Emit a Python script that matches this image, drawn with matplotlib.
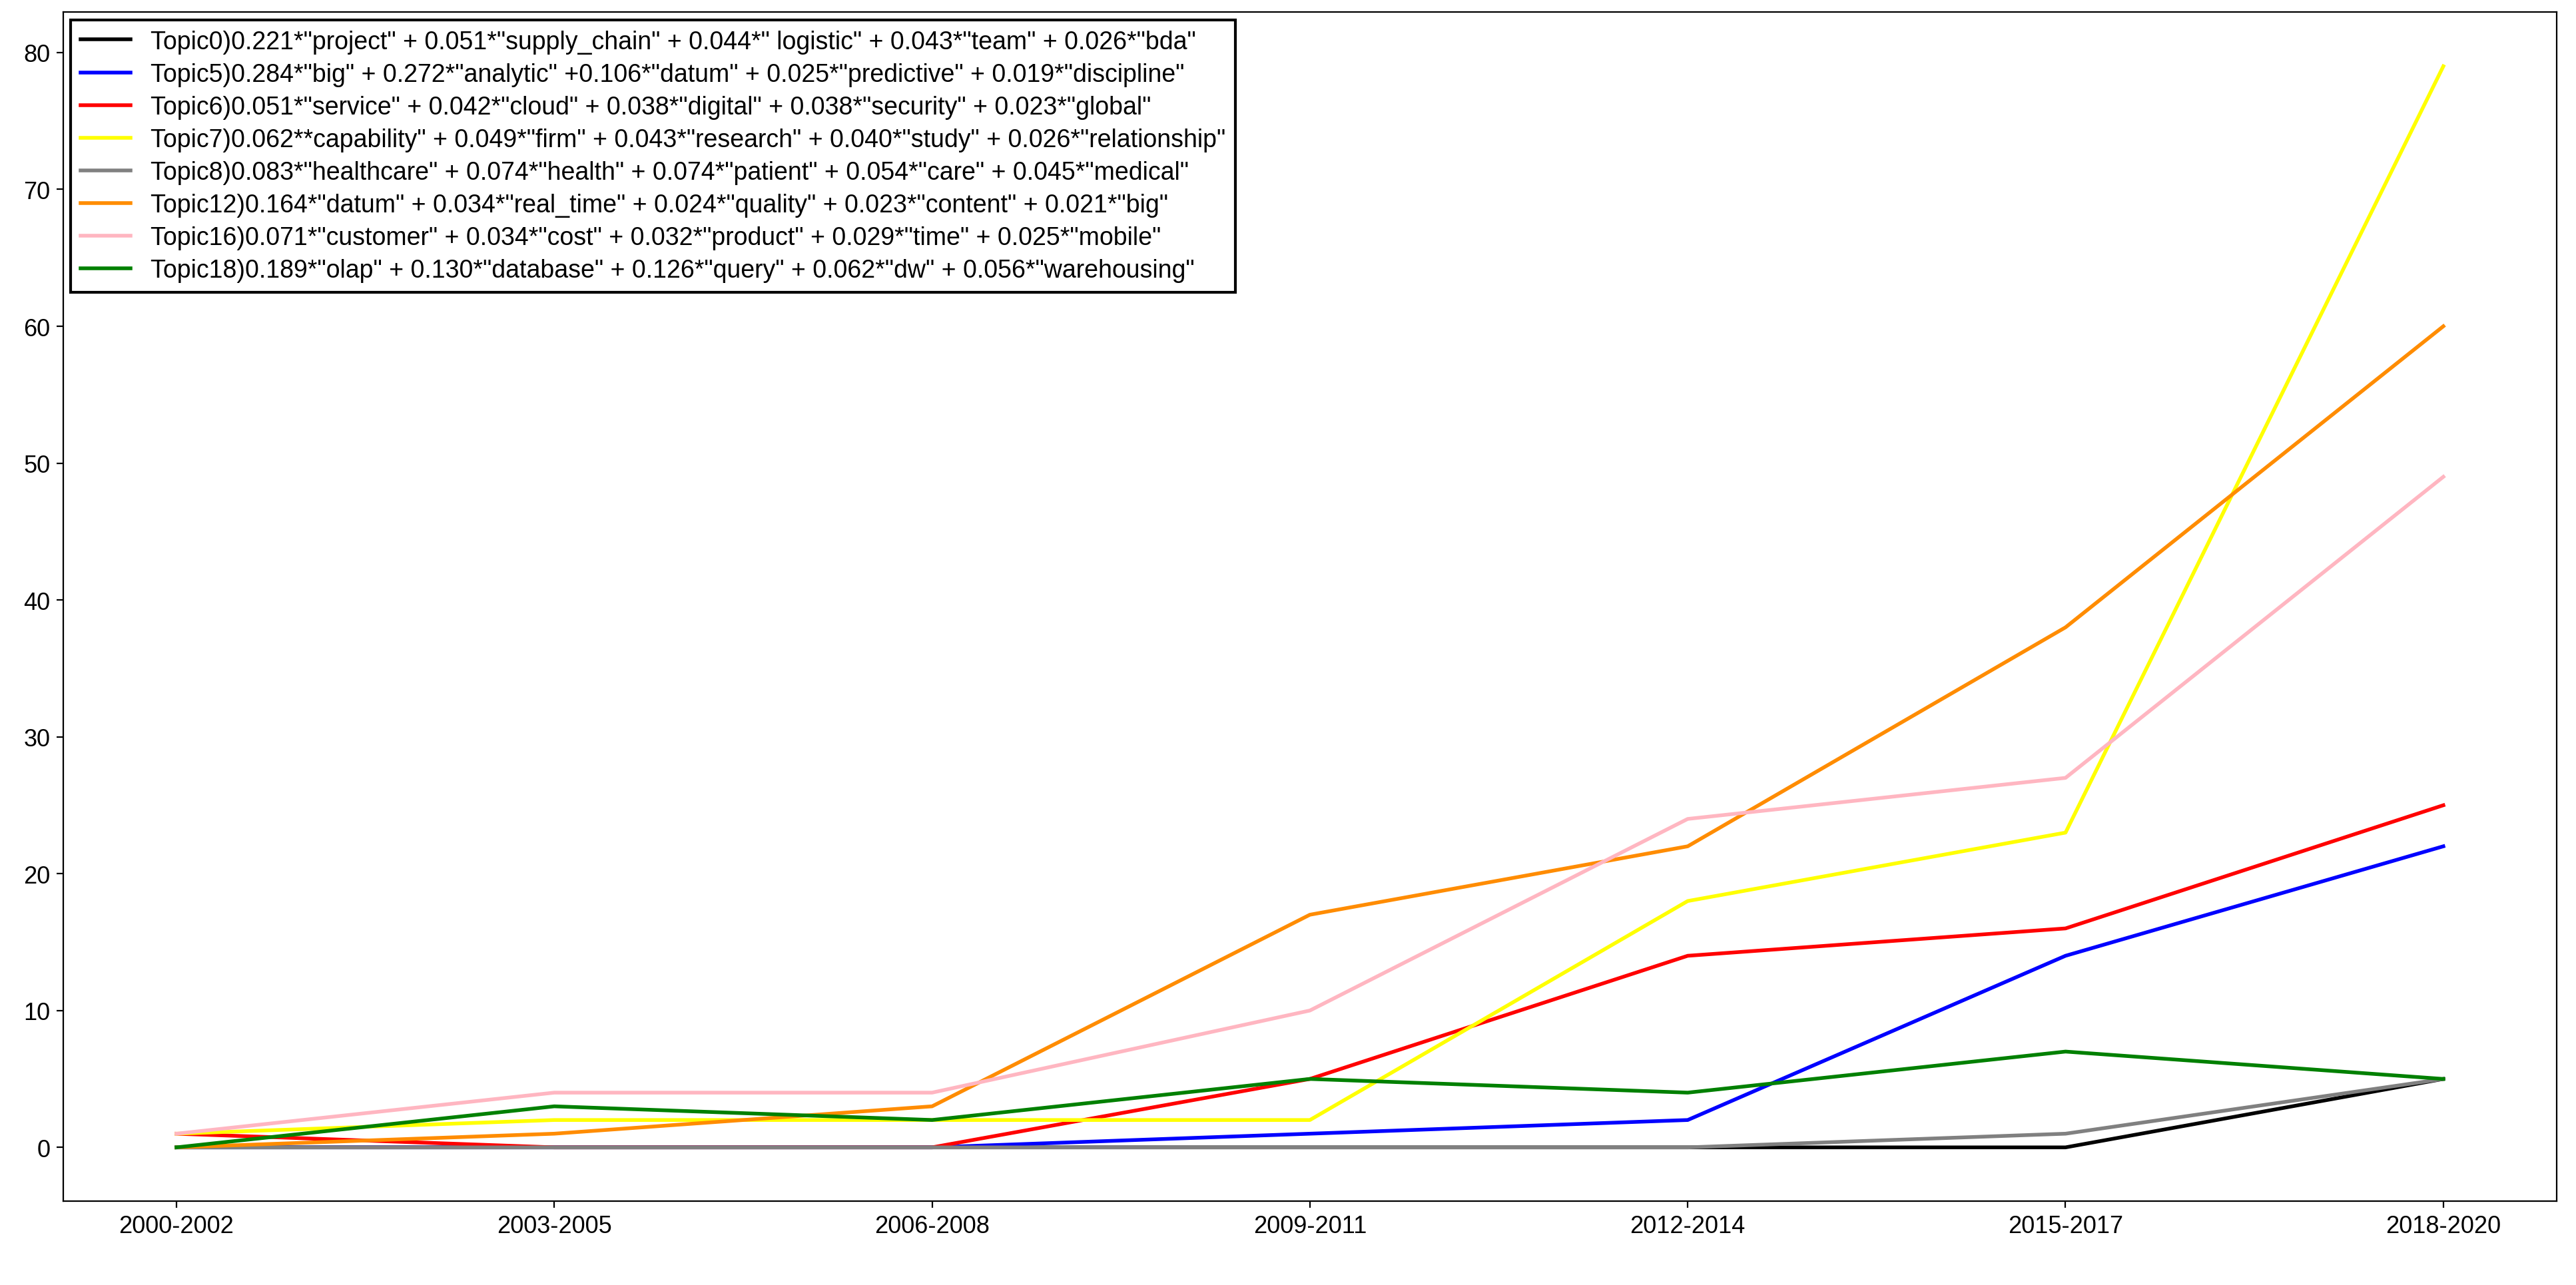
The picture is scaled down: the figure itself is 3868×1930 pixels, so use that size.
import matplotlib
matplotlib.use("Agg")
import matplotlib.pyplot as plt

plt.rcParams['font.family'] = ['Liberation Sans', 'DejaVu Sans']

periods = ["2000-2002", "2003-2005", "2006-2008", "2009-2011", "2012-2014", "2015-2017", "2018-2020"]
topic0 = [0, 0, 0, 0, 0, 0, 5]
topic5 = [0, 0, 0, 1, 2, 14, 22]
topic6 = [1, 0, 0, 5, 14, 16, 25]
topic7 = [1, 2, 2, 2, 18, 23, 79]
topic8 = [0, 0, 0, 0, 0, 1, 5]
topic12 = [0, 1, 3, 17, 22, 38, 60]
topic16 = [1, 4, 4, 10, 24, 27, 49]
topic18 = [0, 3, 2, 5, 4, 7, 5]

labels = [
    'Topic0)0.221*"project" + 0.051*"supply_chain" + 0.044*" logistic" + 0.043*"team" + 0.026*"bda"',
    'Topic5)0.284*"big" + 0.272*"analytic" +0.106*"datum" + 0.025*"predictive" + 0.019*"discipline"',
    'Topic6)0.051*"service" + 0.042*"cloud" + 0.038*"digital" + 0.038*"security" + 0.023*"global"',
    'Topic7)0.062**capability" + 0.049*"firm" + 0.043*"research" + 0.040*"study" + 0.026*"relationship"',
    'Topic8)0.083*"healthcare" + 0.074*"health" + 0.074*"patient" + 0.054*"care" + 0.045*"medical"',
    'Topic12)0.164*"datum" + 0.034*"real_time" + 0.024*"quality" + 0.023*"content" + 0.021*"big"',
    'Topic16)0.071*"customer" + 0.034*"cost" + 0.032*"product" + 0.029*"time" + 0.025*"mobile"',
    'Topic18)0.189*"olap" + 0.130*"database" + 0.126*"query" + 0.062*"dw" + 0.056*"warehousing"',
]
series = [topic0, topic5, topic6, topic7, topic8, topic12, topic16, topic18]
colors = ["black", "blue", "red", "yellow", "gray", "darkorange", "lightpink", "green"]

fig = plt.figure(figsize=(19.34, 9.655), dpi=200)
ax = fig.add_axes([0.0245, 0.065, 0.968, 0.925])
for s, c, l in zip(series, colors, labels):
    ax.plot(periods, s, color=c, label=l, linewidth=2)
ax.set_yticks(range(0, 81, 10))
ax.tick_params(labelsize=13)
leg = ax.legend(loc="upper left", fontsize=13.5, fancybox=False, edgecolor="black",
                framealpha=1, borderaxespad=0.3, labelspacing=0.35)
leg.get_frame().set_linewidth(1.5)
fig.savefig("out.png", dpi=200)
